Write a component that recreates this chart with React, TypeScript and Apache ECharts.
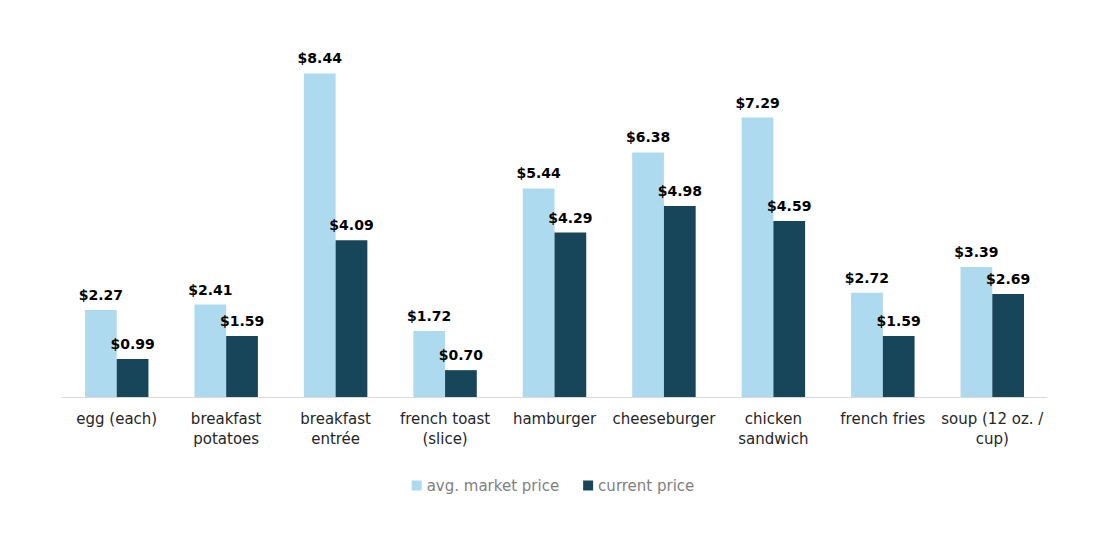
import React, { useEffect, useRef } from "react";
import * as echarts from "echarts";

const categories = [
  "egg (each)",
  "breakfast\npotatoes",
  "breakfast\nentrée",
  "french toast\n(slice)",
  "hamburger",
  "cheeseburger",
  "chicken\nsandwich",
  "french fries",
  "soup (12 oz. /\ncup)",
];
const avgMarketPrice = [2.27, 2.41, 8.44, 1.72, 5.44, 6.38, 7.29, 2.72, 3.39];
const currentPrice = [0.99, 1.59, 4.09, 0.7, 4.29, 4.98, 4.59, 1.59, 2.69];

const FONT = "'Century Gothic', 'DejaVu Sans', sans-serif";

export default function App() {
  const ref = useRef<HTMLDivElement>(null);
  useEffect(() => {
    document.body.style.margin = "0";
    const chart = echarts.init(ref.current!, null, { renderer: "svg" });
    const label = {
      show: true,
      position: "top",
      distance: 8,
      color: "#000",
      fontWeight: "bold",
      fontSize: 14,
      fontFamily: FONT,
      formatter: (p: any) => "$" + Number(p.value).toFixed(2),
    };
    chart.setOption({
      animation: false,
      textStyle: { fontFamily: FONT },
      grid: { left: 62, right: 59, top: 52, bottom: 138 },
      legend: {
        bottom: 37,
        left: "center",
        itemWidth: 10,
        itemHeight: 10,
        itemGap: 24,
        icon: "rect",
        textStyle: { color: "#7f7f7f", fontSize: 15, fontFamily: FONT },
        data: ["avg. market price", "current price"],
      },
      xAxis: {
        type: "category",
        data: categories,
        axisLine: { lineStyle: { color: "#d9d9d9", width: 1 } },
        axisTick: { show: false },
        axisLabel: {
          color: "#262626",
          fontSize: 15,
          lineHeight: 20,
          margin: 12,
          interval: 0,
          fontFamily: FONT,
        },
      },
      yAxis: {
        type: "value",
        min: 0,
        max: 9,
        show: false,
        splitLine: { show: false },
      },
      series: [
        {
          name: "avg. market price",
          type: "bar",
          data: avgMarketPrice,
          barGap: "0%",
          barCategoryGap: "42%",
          itemStyle: { color: "#ADDAEE" },
          label,
        },
        {
          name: "current price",
          type: "bar",
          data: currentPrice,
          barGap: "0%",
          barCategoryGap: "42%",
          itemStyle: { color: "#17465A" },
          label,
        },
      ],
    });
    return () => chart.dispose();
  }, []);
  return <div ref={ref} style={{ width: 1106, height: 535 }} />;
}
